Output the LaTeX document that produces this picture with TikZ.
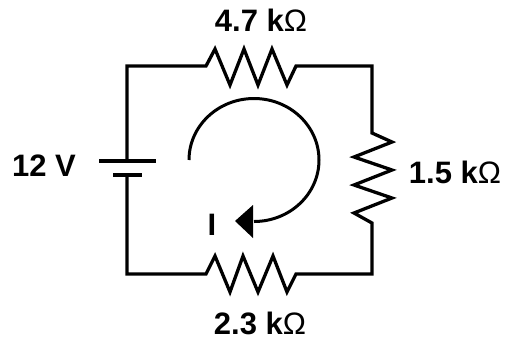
\documentclass[tikz,border=0pt]{standalone}
\usepackage{fontspec}
\setmainfont{Liberation Sans}
\newcommand{\ohmsym}{{\fontseries{m}\selectfont Ω}}
\begin{document}
\begin{tikzpicture}[x=1pt,y=-1pt,
  wire/.style={line width=3.3pt,line join=miter,line cap=butt},
  plate/.style={line width=3.5pt},
  loopline/.style={line width=3pt},
  lbl/.style={font=\fontsize{31}{33}\selectfont\bfseries,inner sep=0pt,text=black}]
\useasboundingbox (0,0) rectangle (506,341);
\coordinate (batTop) at (127,161);
\coordinate (batBot) at (127,175);
\coordinate (tl) at (127,66);
\coordinate (tr) at (372,66);
\coordinate (br) at (372,274);
\coordinate (bl) at (127,274);
\draw[wire] (batTop) -- (tl) -- (206,66) -- (215,49) -- (230,85) -- (244,49) -- (258,85) -- (272,49) -- (287,85) -- (296,66) -- (tr)
  -- (372,133) -- (392,142) -- (354,157) -- (392,170) -- (354,185) -- (392,198) -- (354,213) -- (372,223) -- (br)
  -- (296,274) -- (287,292) -- (273,256) -- (258,292) -- (243,256) -- (230,292) -- (215,256) -- (206,274) -- (bl) -- (batBot);
\draw[plate] (99,161) -- (156,161);
\draw[plate] (113,175) -- (142,175);
\draw[loopline] (189,160) arc[start angle=180,delta angle=270,x radius=65,y radius=61.5];
\fill (235,221) -- (253,205) -- (253,238) -- cycle;
\node[lbl] (src) at (44,166) {12 V};
\node[lbl] (rtop) at (261,20) {4.7 k\ohmsym};
\node[lbl] (rright) at (455,172) {1.5 k\ohmsym};
\node[lbl] (rbot) at (260,323) {2.3 k\ohmsym};
\node[lbl] (cur) at (212,225) {I};
\end{tikzpicture}
\end{document}
